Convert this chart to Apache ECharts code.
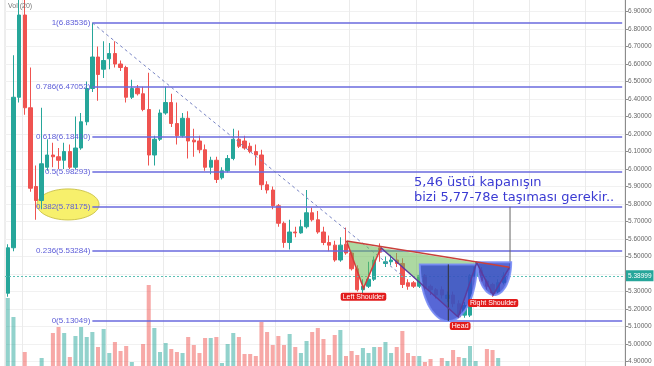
<!DOCTYPE html>
<html><head><meta charset="utf-8">
<script src="https://cdn.jsdelivr.net/npm/echarts@6/dist/echarts.min.js"></script>
<style>html,body{margin:0;padding:0;background:#fff}#c{width:654px;height:366px}</style>
</head><body><div id="c"></div>
<script>
// ---- data ----
const opens = [5.29,5.55,6.41,6.88,6.35,5.90,5.82,6.01,6.08,6.07,
6.05,6.10,6.01,6.12,6.27,6.46,6.64,6.57,6.63,6.66,
6.60,6.58,6.41,6.46,6.43,6.34,6.08,6.17,6.32,6.38,
6.26,6.19,6.29,6.165,6.16,6.11,6.01,6.05,5.95,5.99,
6.06,6.17,6.16,6.13,6.10,6.08,5.91,5.88,5.79,5.69,
5.58,5.64,5.635,5.67,5.75,5.71,5.64,5.58,5.565,5.48,
5.57,5.52,5.43,5.31,5.33,5.37,5.55,5.46,5.47,5.48,
5.46,5.35,5.35,5.33,5.39,5.33,5.31,5.31,5.26,5.28,
5.23,5.165,5.165,5.39,5.42,5.36,5.34,5.30,5.35];
const closes = [5.55,6.41,6.88,6.35,5.89,5.82,6.03,6.08,6.07,6.05,
6.10,6.01,6.12,6.27,6.46,6.64,6.54,6.62,6.66,6.60,
6.58,6.41,6.46,6.43,6.34,6.08,6.17,6.32,6.38,6.26,
6.19,6.29,6.16,6.155,6.11,6.01,6.05,5.94,5.99,6.06,
6.17,6.13,6.12,6.10,6.08,5.91,5.88,5.79,5.69,5.58,
5.64,5.635,5.67,5.75,5.71,5.64,5.58,5.565,5.48,5.565,
5.52,5.43,5.31,5.33,5.37,5.48,5.525,5.47,5.48,5.46,
5.34,5.33,5.33,5.39,5.32,5.31,5.28,5.28,5.28,5.23,
5.155,5.22,5.39,5.44,5.36,5.33,5.29,5.35,5.38999];
const lows = [5.27,5.53,6.38,6.31,5.87,5.71,5.77,5.99,6.01,6.00,
6.00,6.00,6.00,6.11,6.25,6.44,6.39,6.52,6.57,6.58,
6.56,6.38,6.40,6.42,6.33,6.02,6.02,6.16,6.31,6.24,
6.14,6.18,6.06,6.07,6.09,5.99,5.97,5.92,5.94,5.98,
6.05,6.12,6.11,6.09,6.02,5.88,5.86,5.77,5.67,5.55,
5.54,5.61,5.63,5.66,5.70,5.63,5.565,5.53,5.47,5.47,
5.51,5.42,5.30,5.29,5.32,5.36,5.47,5.44,5.45,5.44,
5.32,5.31,5.32,5.32,5.31,5.28,5.26,5.26,5.24,5.21,
5.148,5.15,5.154,5.38,5.34,5.31,5.27,5.29,5.34];
const highs = [5.57,6.65,7.00,6.97,6.58,6.02,6.35,6.17,6.15,6.12,
6.15,6.14,6.30,6.32,6.50,6.835,6.70,6.73,6.72,6.73,
6.62,6.59,6.51,6.48,6.47,6.55,6.19,6.34,6.47,6.43,
6.38,6.32,6.33,6.23,6.19,6.14,6.07,6.07,6.01,6.08,
6.23,6.22,6.19,6.15,6.14,6.11,5.93,5.90,5.80,5.70,
5.71,5.67,5.71,5.88,5.78,5.76,5.67,5.62,5.59,5.61,
5.665,5.53,5.45,5.37,5.47,5.50,5.575,5.50,5.51,5.52,
5.49,5.37,5.36,5.42,5.40,5.34,5.32,5.33,5.30,5.30,
5.25,5.24,5.40,5.47,5.44,5.37,5.35,5.37,5.41];
const volumes = [81,62,9,27,9,9,21,8,46,52,
46,22,43,52,42,47,32,50,26,37,
28,33,17,8,35,94,51,27,36,30,
27,26,42,34,26,41,41,42,16,35,
46,42,25,25,23,57,47,34,43,34,
45,32,26,38,47,51,40,24,44,49,
23,28,24,31,26,32,32,37,26,32,
48,26,23,23,17,20,9,21,18,29,
22,21,33,18,10,30,29,21,10];
const fibRatios = ['1','0.786','0.618','0.5','0.382','0.236','0'];
const fibPrices = [6.83536,6.47052,6.18410,5.98293,5.78175,5.53284,5.13049];
const lastPrice = 5.38999;
const slotCount = 110;           // candles + empty right margin
const fibStartIdx = 15;          // fib drawn from the swing high candle
const vGridIdx = [3,18,28,38,48,61,73,83,93,103];
// trend line (index, price) start and end
const trendIdx = [15, 70.5];
const trendPrice = [6.835, 5.377];
// head & shoulders anchor points (index, price): A,B(left sh.),C,D(head),E,F(right sh.),G
const hsIdx = [60.1,63.1,66.2,79.9,83.2,86.1,89.0];
const hsPrice = [5.589,5.318,5.550,5.154,5.465,5.280,5.438];
const noteText = '5,46 üstü kapanışın\nbizi 5,77-78e taşıması gerekir..';

const chart = echarts.init(document.getElementById('c'));
const slots = Array.from({length: slotCount}, (_, i) => i);
const candleData = opens.map((o, i) => [o, closes[i], lows[i], highs[i]]);
const volData = volumes.map((v, i) => ({value: v, itemStyle: {color: closes[i] >= opens[i] ? 'rgba(38,166,154,0.5)' : 'rgba(239,83,80,0.5)'}}));

const fibLines = fibPrices.map((p, k) => [
  {coord: [fibStartIdx, p], lineStyle: {color: '#6a6ade', width: 1.5, type: 'solid'},
   label: {show: true, position: 'start', distance: 2, formatter: fibRatios[k] + '(' + p.toFixed(5) + ')', color: '#5c5cd8', fontSize: 8, fontFamily: 'Liberation Sans'}},
  {coord: [slotCount - 1, p]}
]);

chart.setOption({
  animation: false,
  backgroundColor: '#ffffff',
  grid: {left: 5, right: 29, top: -6, bottom: -13, containLabel: false, outerBoundsMode: 'none',
         show: true, borderColor: '#dcdcdc', borderWidth: 1},
  xAxis: {type: 'category', data: slots, boundaryGap: true,
    axisLine: {show: false}, axisTick: {show: false}, axisLabel: {show: false},
    splitLine: {show: true, interval: (i) => vGridIdx.includes(i), lineStyle: {color: '#ebebeb', width: 1}}},
  yAxis: [
    {type: 'value', position: 'right', min: 4.8, max: 7.0, interval: 0.1,
     axisLine: {show: true, lineStyle: {color: '#8c8c8c'}},
     axisTick: {show: true, length: 3, lineStyle: {color: '#8c8c8c'}},
     axisLabel: {fontSize: 6.5, color: '#666', margin: 3, fontFamily: 'Liberation Sans', formatter: v => v.toFixed(5)},
     splitLine: {show: true, lineStyle: {color: '#f1f1f1'}}},
    {type: 'value', min: 0, max: 385, show: false, splitLine: {show: false}}
  ],
  series: [
    {type: 'bar', yAxisIndex: 1, data: volData, barWidth: '72%', z: 1, silent: true},
    {type: 'candlestick', data: candleData, barWidth: '70%', z: 2,
     itemStyle: {color: '#26a69a', color0: '#ef5350', borderColor: '#26a69a', borderColor0: '#ef5350', borderWidth: 1},
     markLine: {silent: true, symbol: ['none', 'none'], animation: false,
       data: fibLines.concat([
         {yAxis: lastPrice, lineStyle: {type: [2, 2], color: '#5cc0b5', width: 1, opacity: 1},
          label: {show: true, position: 'end', distance: 1, formatter: lastPrice.toFixed(5), backgroundColor: '#26a69a', color: '#fff', fontSize: 6.5, padding: [2, 2, 2, 2], fontFamily: 'Liberation Sans'}}
       ])}}
  ]
});

function px(idx, price) {
  const a = chart.convertToPixel({seriesIndex: 1}, [0, price]);
  const b = chart.convertToPixel({seriesIndex: 1}, [1, price]);
  return [a[0] + (b[0] - a[0]) * idx, a[1]];
}
function halfEllipse(l, r, t, b) {
  const p1 = px(l, t), p2 = px(r, b);
  const cx = (p1[0] + p2[0]) / 2, rx = (p2[0] - p1[0]) / 2, ty = p1[1], ry = p2[1] - p1[1];
  const pts = [];
  for (let k = 0; k <= 40; k++) { const th = Math.PI * k / 40; pts.push([cx + rx * Math.cos(th), ty + ry * Math.sin(th)]); }
  return {pts, cx, ty, by: p2[1]};
}
const P = hsIdx.map((x, i) => px(x, hsPrice[i]));
const T1 = px(trendIdx[0], trendPrice[0]), T2 = px(trendIdx[1], trendPrice[1]);
const ell1 = px(5.18, 5.886), ell2 = px(16.18, 5.709);
const head = halfEllipse(73.1, 83.2, 5.455, 5.131);
const rsh = halfEllipse(83.3, 89.3, 5.467, 5.28);
const call1 = px(89.1, 5.784), call2 = px(89.1, 5.423);
const green = 'rgba(105,185,85,0.55)';
function tag(txt, p, dx, dy) {
  return {type: 'text', z: 60, style: {text: txt, x: p[0] + dx, y: p[1] + dy, fill: '#fff', fontSize: 7, fontFamily: 'Liberation Sans',
    backgroundColor: '#e21b1b', padding: [1, 2, 0, 2], borderRadius: 2, align: 'center', verticalAlign: 'middle', textAlign: 'center', textVerticalAlign: 'middle'}};
}
chart.setOption({graphic: [
  {type: 'ellipse', z: 1, shape: {cx: (ell1[0] + ell2[0]) / 2, cy: (ell1[1] + ell2[1]) / 2, rx: (ell2[0] - ell1[0]) / 2, ry: (ell2[1] - ell1[1]) / 2},
   style: {fill: '#f7f06c', stroke: '#cfc650', lineWidth: 1}},
  {type: 'line', z: 45, shape: {x1: T1[0], y1: T1[1], x2: T2[0], y2: T2[1]}, style: {stroke: '#7884c4', lineWidth: 1, lineDash: [3, 3]}},
  {type: 'polygon', z: 50, shape: {points: [P[0], P[1], P[2]]}, style: {fill: green}},
  {type: 'polygon', z: 50, shape: {points: [P[2], P[3], P[4]]}, style: {fill: green}},
  {type: 'polygon', z: 50, shape: {points: [P[4], P[5], P[6]]}, style: {fill: green}},
  {type: 'polygon', z: 51, shape: {points: head.pts}, style: {fill: 'rgba(50,70,205,0.82)', stroke: 'rgba(120,140,245,0.9)', lineWidth: 2}},
  {type: 'polygon', z: 51, shape: {points: rsh.pts}, style: {fill: 'rgba(50,70,205,0.82)', stroke: 'rgba(120,140,245,0.9)', lineWidth: 2}},
  {type: 'line', z: 52, shape: {x1: head.cx, y1: head.ty, x2: head.cx, y2: head.by}, style: {stroke: '#333', lineWidth: 1}},
  {type: 'polyline', z: 53, shape: {points: [P[0], P[1], P[2]]}, style: {stroke: '#d23c3c', lineWidth: 1.5, fill: null}},
  {type: 'polyline', z: 53, shape: {points: [P[2], P[3], P[4], P[5], P[6]]}, style: {stroke: '#5b3c9e', lineWidth: 1.5, fill: null}},
  {type: 'line', z: 53, shape: {x1: P[0][0], y1: P[0][1], x2: P[6][0], y2: P[6][1]}, style: {stroke: '#c8403a', lineWidth: 1.5}},
  {type: 'line', z: 49, shape: {x1: call1[0], y1: call1[1], x2: call2[0], y2: call2[1]}, style: {stroke: '#666', lineWidth: 1}},
  tag('Left Shoulder', P[1], 0, 8.5),
  tag('Head', P[3], 2, 9),
  tag('Right Shoulder', P[5], 0, 8),
  {type: 'text', z: 60, style: {text: noteText, x: 414, y: 175, fill: '#3b3bd3', fontSize: 13, lineHeight: 15, fontFamily: 'DejaVu Sans', align: 'left', verticalAlign: 'top', textAlign: 'left', textVerticalAlign: 'top'}},
  {type: 'text', z: 60, style: {text: 'Vol (20)', x: 8, y: 3, fill: '#777', fontSize: 7, fontFamily: 'Liberation Sans', verticalAlign: 'top', textVerticalAlign: 'top'}}
]});
</script>
</body></html>
